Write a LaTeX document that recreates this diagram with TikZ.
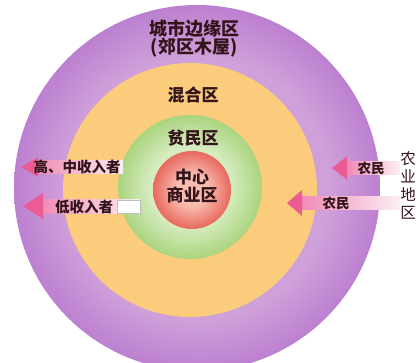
\documentclass[tikz,border=0pt]{standalone}
\usepackage{fontspec}
\newfontfamily\cjk{Noto Sans CJK SC}
\usetikzlibrary{positioning}

\definecolor{rimPurple}{RGB}{188,128,208}
\definecolor{midPurple}{RGB}{208,160,218}
\definecolor{mixYellow}{RGB}{250,204,124}
\definecolor{slumGreen}{RGB}{170,212,126}
\definecolor{slumGreenIn}{RGB}{214,236,192}
\definecolor{cbdRed}{RGB}{232,104,94}
\definecolor{cbdRedIn}{RGB}{248,188,176}
\definecolor{arrowPink}{RGB}{236,92,148}
\definecolor{bandPink}{RGB}{240,140,182}
\definecolor{bandEnd}{RGB}{253,238,244}
\definecolor{labelInk}{RGB}{50,20,26}

\pgfdeclareradialshading{purpleDisk}{\pgfpoint{0bp}{0bp}}{color(0bp)=(midPurple); color(18bp)=(midPurple); color(25bp)=(rimPurple); color(50bp)=(rimPurple)}
\pgfdeclareradialshading{greenDisk}{\pgfpoint{0bp}{0bp}}{color(0bp)=(slumGreenIn); color(14bp)=(slumGreenIn); color(25bp)=(slumGreen); color(50bp)=(slumGreen)}
\pgfdeclareradialshading{redDisk}{\pgfpoint{0bp}{0bp}}{color(0bp)=(cbdRedIn); color(10bp)=(cbdRedIn); color(25bp)=(cbdRed); color(50bp)=(cbdRed)}

% tip x, y, head base x, tail x, head half height, band half height
\newcommand{\flowarrow}[6]{%
  \shade[left color=bandPink, right color=bandEnd] (#3,#2-#6) rectangle (#4,#2+#6);
  \fill[arrowPink] (#1,#2) -- (#3,#2-#5) -- (#3,#2+#5) -- cycle;
}

\begin{document}
\begin{tikzpicture}[x=1pt, y=-1pt]
  \tikzstyle{zone}=[font=\cjk\bfseries\fontsize{17}{18}\selectfont, text=labelInk, align=center, inner sep=0pt]
  \tikzstyle{flow}=[font=\cjk\bfseries\fontsize{14.5}{15}\selectfont, text=labelInk, inner sep=0pt]

  \useasboundingbox (0,0) rectangle (420,362);
  \clip (0,0) rectangle (420,362);

  % rings, outside in
  \shade[shading=purpleDisk] (197,188) circle (183);
  \fill[mixYellow] (190,190) circle (127);
  \shade[shading=greenDisk] (190,187) circle (72);
  \shade[shading=redDisk] (192,190) circle (39);

  % migration arrows
  \flowarrow{21}{167}{38}{123}{10}{6.5}
  \flowarrow{23}{206}{43}{140}{13}{7}
  \fill[white, draw=gray!50, line width=0.4pt] (117,200) rectangle (140,213);
  \flowarrow{332}{168}{347}{400}{11.5}{6.5}
  \flowarrow{287}{203}{302}{400}{13}{6.5}

  \node[zone, font=\cjk\bfseries\fontsize{18}{18}\selectfont] (edge) at (194,39) {城市边缘区\\(郊区木屋)};
  \node[zone] (mix) at (193,95) {混合区};
  \node[zone] (slum) at (193,138) {贫民区};
  \node[zone] (cbd) at (192,186) {中心\\商业区};

  \node[flow] (hiInc) at (77,167) {高、中收入者};
  \node[flow] (loInc) at (84,207) {低收入者};
  \node[flow, font=\cjk\bfseries\fontsize{13.5}{14}\selectfont] (farmA) at (371,168) {农民};
  \node[flow, font=\cjk\bfseries\fontsize{13.5}{14}\selectfont] (farmB) at (336,203) {农民};
  \node[flow, font=\cjk\fontsize{15.5}{18}\selectfont, align=center] (farm) at (408,185) {农\\业\\地\\区};
\end{tikzpicture}
\end{document}
